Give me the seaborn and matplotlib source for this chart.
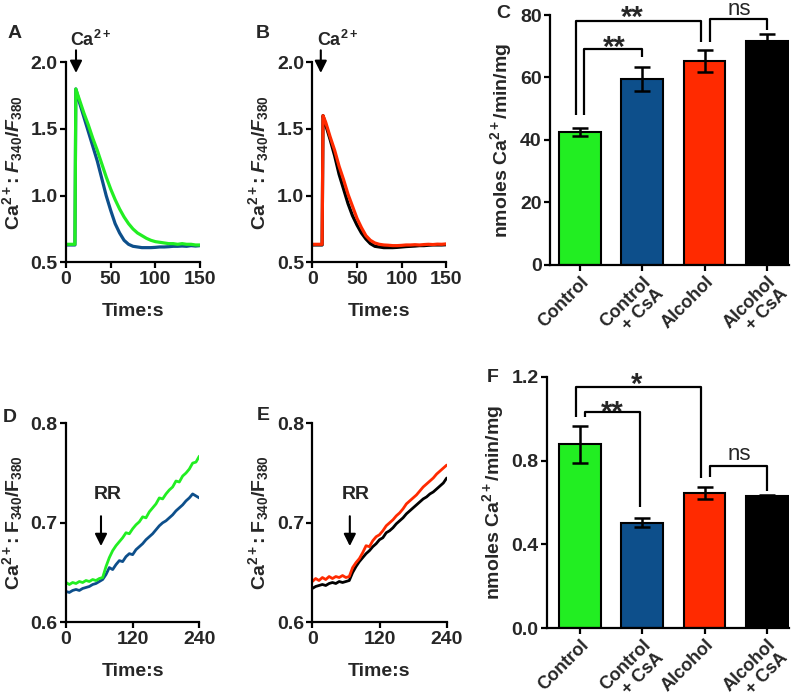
import numpy as np
import pandas as pd
import matplotlib
matplotlib.use("Agg")
import matplotlib.pyplot as plt
import seaborn as sns

sns.set_theme(style="ticks")
plt.rcParams['font.family'] = ['Liberation Sans', 'DejaVu Sans']
plt.rcParams['font.weight'] = 'bold'
plt.rcParams['axes.labelweight'] = 'bold'
plt.rcParams['mathtext.fontset'] = 'custom'
plt.rcParams['mathtext.rm'] = 'Liberation Sans:bold'
plt.rcParams['mathtext.it'] = 'Liberation Sans:italic:bold'
plt.rcParams['mathtext.bf'] = 'Liberation Sans:bold'

GREEN = '#22ee22'
BLUE = '#0d4f8b'
RED = '#ff2a00'
BLACK = '#000000'

# ---------------- Panel A data ----------------
time_A = [0, 10, 11, 15, 20, 25, 30, 35, 40, 45, 50, 55, 60, 65, 70, 75, 80, 85,
          90, 95, 100, 105, 110, 115, 120, 125, 130, 135, 140, 145, 150]
control_A = [0.635, 0.635, 1.80, 1.72, 1.62, 1.53, 1.43, 1.34, 1.24, 1.14, 1.05, 0.97,
             0.90, 0.84, 0.79, 0.75, 0.72, 0.70, 0.68, 0.665, 0.655, 0.65, 0.645, 0.64,
             0.64, 0.635, 0.64, 0.635, 0.635, 0.63, 0.63]
csa_A = [0.63, 0.63, 1.80, 1.70, 1.59, 1.48, 1.37, 1.26, 1.13, 1.00, 0.89, 0.79,
         0.72, 0.665, 0.635, 0.62, 0.615, 0.61, 0.61, 0.61, 0.612, 0.615, 0.615, 0.617,
         0.62, 0.62, 0.622, 0.62, 0.625, 0.622, 0.625]

# ---------------- Panel B data ----------------
time_B = [0, 11, 12, 15, 20, 25, 30, 35, 40, 45, 50, 55, 60, 65, 70, 75, 80, 85,
          90, 95, 100, 105, 110, 115, 120, 125, 130, 135, 140, 145, 150]
alcohol_B = [0.635, 0.635, 1.60, 1.55, 1.44, 1.34, 1.22, 1.12, 1.01, 0.92, 0.83, 0.76,
             0.70, 0.665, 0.645, 0.635, 0.63, 0.628, 0.625, 0.625, 0.627, 0.63, 0.63,
             0.632, 0.63, 0.633, 0.635, 0.633, 0.636, 0.635, 0.638]
alcohol_csa_B = [0.63, 0.63, 1.60, 1.53, 1.42, 1.30, 1.16, 1.05, 0.94, 0.85, 0.78, 0.72,
                 0.675, 0.64, 0.62, 0.615, 0.61, 0.61, 0.61, 0.612, 0.615, 0.618, 0.62,
                 0.622, 0.625, 0.625, 0.628, 0.63, 0.63, 0.63, 0.632]

# ---------------- Panel D / E data ----------------
time_DE = [0, 6, 12, 18, 24, 30, 36, 42, 48, 54, 60, 66, 72, 78, 84, 90, 96, 102, 108,
           114, 120, 126, 132, 138, 144, 150, 156, 162, 168, 174, 180, 186, 192, 198,
           204, 210, 216, 222, 228, 234, 240]
control_D = [0.640, 0.638, 0.640, 0.639, 0.641, 0.640, 0.642, 0.641, 0.643, 0.642, 0.644,
             0.645, 0.656, 0.665, 0.672, 0.677, 0.681, 0.685, 0.690, 0.689, 0.694, 0.698,
             0.701, 0.706, 0.705, 0.711, 0.715, 0.719, 0.725, 0.724, 0.729, 0.733, 0.736,
             0.742, 0.741, 0.747, 0.750, 0.754, 0.760, 0.761, 0.767]
csa_D = [0.631, 0.630, 0.632, 0.633, 0.632, 0.634, 0.635, 0.636, 0.638, 0.639, 0.641,
         0.643, 0.648, 0.655, 0.653, 0.658, 0.662, 0.661, 0.666, 0.669, 0.668, 0.673,
         0.676, 0.679, 0.683, 0.686, 0.689, 0.693, 0.697, 0.700, 0.702, 0.705, 0.708,
         0.712, 0.715, 0.718, 0.722, 0.725, 0.729, 0.727, 0.725]
alcohol_E = [0.641, 0.644, 0.642, 0.645, 0.643, 0.646, 0.644, 0.646, 0.645, 0.647, 0.645,
             0.646, 0.655, 0.660, 0.664, 0.670, 0.677, 0.676, 0.682, 0.686, 0.688, 0.692,
             0.697, 0.700, 0.703, 0.707, 0.710, 0.714, 0.719, 0.722, 0.725, 0.728, 0.732,
             0.736, 0.739, 0.742, 0.745, 0.749, 0.752, 0.755, 0.758]
alcohol_csa_E = [0.634, 0.636, 0.637, 0.638, 0.637, 0.639, 0.640, 0.639, 0.641, 0.640,
                 0.641, 0.642, 0.650, 0.656, 0.661, 0.665, 0.669, 0.672, 0.676, 0.679,
                 0.683, 0.685, 0.690, 0.692, 0.695, 0.699, 0.702, 0.705, 0.709, 0.712,
                 0.715, 0.718, 0.721, 0.724, 0.726, 0.729, 0.731, 0.734, 0.737, 0.740, 0.745]

# ---------------- Bar data ----------------
groups = ['Control', 'Control\n+ CsA', 'Alcohol', 'Alcohol\n+ CsA']
bar_colors = [GREEN, BLUE, RED, BLACK]
C_means = [42.5, 59.6, 65.3, 71.6]
C_sem = [1.3, 3.8, 3.5, 2.2]
F_means = [0.877, 0.504, 0.647, 0.631]
F_sem = [0.088, 0.020, 0.028, 0.006]

# brackets: (x1, x2, top, leg1_bottom, leg2_bottom, label, text_x, text_baseline)
C_brackets = [(-0.065, 1.95, 78.2, 48.0, 71.5, '**', 0.835, 76.5),
              (0.065, 1.0, 69.0, 48.0, 66.5, '**', 0.554, 66.9),
              (2.08, 3.0, 78.6, 71.5, 75.2, 'ns', 2.55, 80.0)]
F_brackets = [(-0.065, 1.95, 1.149, 1.009, 0.715, '*', 0.90, 1.124),
              (0.08, 0.96, 1.030, 1.006, 0.580, '**', 0.51, 0.99),
              (2.08, 3.0, 0.774, 0.720, 0.656, 'ns', 2.55, 0.803)]

fig = plt.figure(figsize=(8.0, 6.97), dpi=100)
W, H = 800.0, 697.0


def add_ax(left, right, top, bottom):
    return fig.add_axes([left / W, 1 - bottom / H, (right - left) / W, (bottom - top) / H])


axA = add_ax(66, 200, 62.3, 262.3)
axB = add_ax(312.3, 446.3, 62.3, 262.3)
axC = add_ax(550, 789, 15, 265)
axD = add_ax(66, 199.3, 423.3, 622.3)
axE = add_ax(312.3, 446.7, 423.3, 622.3)
axF = add_ax(547, 789, 376.7, 628.3)

TICK_FS = 14
LAB_FS = 14
CAT_FS = 13


def style(ax):
    sns.despine(ax=ax)
    for s in ['left', 'bottom']:
        ax.spines[s].set_linewidth(1.6)
        ax.spines[s].set_color('black')
    ax.tick_params(axis='both', direction='out', length=4, width=1.6, color='black',
                   labelsize=TICK_FS, pad=2)
    for lab in ax.get_xticklabels() + ax.get_yticklabels():
        lab.set_fontweight('bold')
    ax.set_facecolor('none')


def trace(ax, t, series, names, colors, lw):
    df = pd.concat([pd.DataFrame({'t': t, 'v': v, 's': n}) for v, n in zip(series, names)])
    sns.lineplot(data=df, x='t', y='v', hue='s', hue_order=names, palette=colors,
                 estimator=None, legend=False, linewidth=lw, ax=ax, sort=False)


arrow_kw = dict(arrowstyle='-|>,head_length=0.6,head_width=0.3', lw=1.5, color='black',
                shrinkA=0, shrinkB=0)

# ---------------- A ----------------
trace(axA, time_A, [csa_A, control_A], ['Control + CsA', 'Control'], [BLUE, GREEN], 2.3)
axA.set_xlim(0, 150)
axA.set_ylim(0.5, 2.0)
axA.set_xticks([0, 50, 100, 150])
axA.set_yticks([0.5, 1.0, 1.5, 2.0])
axA.set_yticklabels(['0.5', '1.0', '1.5', '2.0'])
axA.set_xlabel('Time:s', fontsize=LAB_FS, fontweight='bold', labelpad=11)
axA.set_ylabel(r'Ca$^{2+}$: $\mathit{F}_{\mathit{340}}$/$\mathit{F}_{\mathit{380}}$',
               fontsize=LAB_FS, labelpad=4)
axA.annotate('', xy=(11.2, 1.92), xytext=(11.2, 2.09), arrowprops=arrow_kw,
             annotation_clip=False)
axA.text(4.5, 2.167, r'Ca$^{2+}$', fontsize=13, ha='left', va='center', clip_on=False)
style(axA)

# ---------------- B ----------------
trace(axB, time_B, [alcohol_csa_B, alcohol_B], ['Alcohol + CsA', 'Alcohol'], [BLACK, RED], 2.3)
axB.set_xlim(0, 150)
axB.set_ylim(0.5, 2.0)
axB.set_xticks([0, 50, 100, 150])
axB.set_yticks([0.5, 1.0, 1.5, 2.0])
axB.set_yticklabels(['0.5', '1.0', '1.5', '2.0'])
axB.set_xlabel('Time:s', fontsize=LAB_FS, fontweight='bold', labelpad=11)
axB.set_ylabel(r'Ca$^{2+}$: $\mathit{F}_{\mathit{340}}$/$\mathit{F}_{\mathit{380}}$',
               fontsize=LAB_FS, labelpad=4)
axB.annotate('', xy=(9.5, 1.92), xytext=(9.5, 2.09), arrowprops=arrow_kw,
             annotation_clip=False)
axB.text(5.3, 2.167, r'Ca$^{2+}$', fontsize=13, ha='left', va='center', clip_on=False)
style(axB)

# ---------------- D ----------------
trace(axD, time_DE, [csa_D, control_D], ['Control + CsA', 'Control'], [BLUE, GREEN], 2.0)
axD.set_xlim(0, 240)
axD.set_ylim(0.6, 0.8)
axD.set_xticks([0, 120, 240])
axD.set_yticks([0.6, 0.7, 0.8])
axD.set_yticklabels(['0.6', '0.7', '0.8'])
axD.set_xlabel('Time:s', fontsize=LAB_FS, fontweight='bold', labelpad=11)
axD.set_ylabel(r'Ca$^{2+}$: F$_{340}$/F$_{380}$', fontsize=LAB_FS, labelpad=4)
axD.annotate('', xy=(63, 0.6766), xytext=(63, 0.7066), arrowprops=arrow_kw)
axD.text(76, 0.728, 'RR', fontsize=14, ha='center', va='center')
style(axD)

# ---------------- E ----------------
trace(axE, time_DE, [alcohol_csa_E, alcohol_E], ['Alcohol + CsA', 'Alcohol'], [BLACK, RED], 2.0)
axE.set_xlim(0, 240)
axE.set_ylim(0.6, 0.8)
axE.set_xticks([0, 120, 240])
axE.set_yticks([0.6, 0.7, 0.8])
axE.set_yticklabels(['0.6', '0.7', '0.8'])
axE.set_xlabel('Time:s', fontsize=LAB_FS, fontweight='bold', labelpad=11)
axE.set_ylabel(r'Ca$^{2+}$: F$_{340}$/F$_{380}$', fontsize=LAB_FS, labelpad=4)
axE.annotate('', xy=(67, 0.6766), xytext=(67, 0.7066), arrowprops=arrow_kw)
axE.text(77, 0.728, 'RR', fontsize=14, ha='center', va='center')
style(axE)


# ---------------- Bars ----------------
def bars(ax, means, sem, brackets, ylim, yticks, yticklabels, xleft):
    sns.barplot(x=groups, y=means, hue=groups, palette=bar_colors, legend=False,
                width=0.67, edgecolor='black', linewidth=1.5, saturation=1, ax=ax)
    ax.errorbar(np.arange(len(groups)), means, yerr=sem, fmt='none', ecolor='black',
                elinewidth=1.8, capsize=6, capthick=1.8, zorder=3)
    for x1, x2, top, b1, b2, lab, tx, ty in brackets:
        ax.plot([x1, x1, x2, x2], [b1, top, top, b2], color='black', lw=1.6,
                clip_on=False, solid_capstyle='butt', zorder=4)
        if '*' in lab:
            ax.text(tx, ty, lab, fontsize=21, fontweight='bold',
                    ha='center', va='baseline', clip_on=False)
        else:
            ax.text(tx, ty, lab, fontsize=16, fontweight='normal',
                    ha='center', va='baseline', clip_on=False)
    ax.set_xlim(xleft, 3.355)
    ax.set_ylim(*ylim)
    ax.set_yticks(yticks)
    ax.set_yticklabels(yticklabels)
    ax.set_xticks(range(len(groups)))
    first_lines = [g.split('\n')[0] for g in groups]
    ax.set_xticklabels(first_lines, rotation=45, ha='right', rotation_mode='anchor',
                       fontweight='bold')
    # second text lines ("+ CsA"), offset perpendicular to the rotated first line
    for i, g in enumerate(groups):
        parts = g.split('\n')
        if len(parts) > 1:
            ax.annotate(parts[1], xy=(i, 0), xycoords=('data', 'axes fraction'),
                        xytext=(9.0, -6 - 9.0), textcoords='offset points',
                        rotation=45, ha='right', va='top', rotation_mode='anchor',
                        fontsize=CAT_FS, fontweight='bold', annotation_clip=False)
    ax.set_xlabel('')
    ax.set_ylabel(r'nmoles Ca$^{2+}$/min/mg', fontsize=LAB_FS, labelpad=4)
    style(ax)
    ax.tick_params(axis='x', labelsize=CAT_FS)


bars(axC, C_means, C_sem, C_brackets, (0, 80), [0, 20, 40, 60, 80],
     ['0', '20', '40', '60', '80'], -0.48)
bars(axF, F_means, F_sem, F_brackets, (0, 1.2), [0.0, 0.4, 0.8, 1.2],
     ['0.0', '0.4', '0.8', '1.2'], -0.53)

# panel letters
for lab, x, y in [('A', 15, 33), ('B', 263, 33), ('C', 503, 13),
                  ('D', 10, 417), ('E', 263, 415), ('F', 493, 378)]:
    fig.text(x / W, 1 - y / H, lab, fontsize=14, fontweight='bold', ha='center', va='center')

fig.savefig('out.png', dpi=100)
